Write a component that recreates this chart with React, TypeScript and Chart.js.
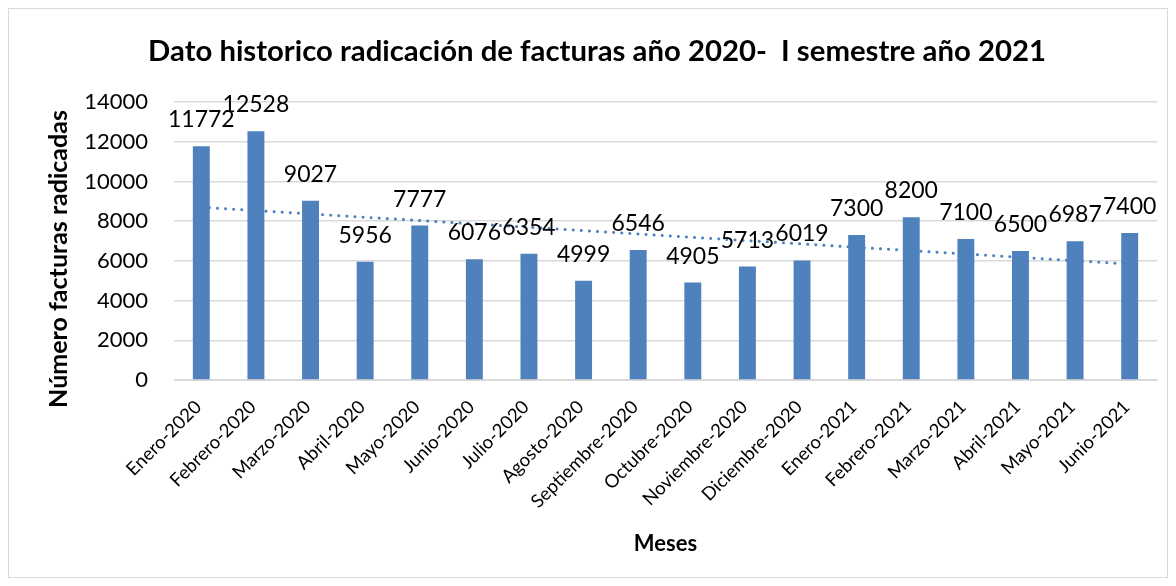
import React, { useEffect, useRef } from "react";
import { Chart, registerables } from "chart.js";

Chart.register(...registerables);

const categories = [
  "Enero-2020", "Febrero-2020", "Marzo-2020", "Abril-2020", "Mayo-2020", "Junio-2020",
  "Julio-2020", "Agosto-2020", "Septiembre-2020", "Octubre-2020", "Noviembre-2020",
  "Diciembre-2020", "Enero-2021", "Febrero-2021", "Marzo-2021", "Abril-2021", "Mayo-2021", "Junio-2021",
];
const facturas = [11772, 12528, 9027, 5956, 7777, 6076, 6354, 4999, 6546, 4905, 5713, 6019, 7300, 8200, 7100, 6500, 6987, 7400];
// Trendline endpoints (first and last month)
const trendStart = 8700;
const trendEnd = 5840;
const yTicks = [0, 2000, 4000, 6000, 8000, 10000, 12000, 14000];

const titleText = "Dato historico radicación de facturas año 2020-  I semestre año 2021";
const yTitleText = "Número facturas radicadas";
const xTitleText = "Meses";

const BLUE = "#4F81BD";
const FONT = "Lato, 'Open Sans', sans-serif";

const textPlugin = {
  id: "customTexts",
  afterDatasetsDraw(chart: any) {
    const meta = chart.getDatasetMeta(0);
    const ctx = chart.ctx;
    ctx.save();
    ctx.font = `23px ${FONT}`;
    ctx.fillStyle = "#000";
    ctx.textAlign = "center";
    ctx.textBaseline = "alphabetic";
    meta.data.forEach((bar: any, i: number) => {
      ctx.fillText(String(facturas[i]), bar.x, bar.y - 19);
    });
    ctx.restore();
  },
  afterDraw(chart: any) {
    const ctx = chart.ctx;
    ctx.save();
    ctx.fillStyle = "#000";
    ctx.textAlign = "center";
    ctx.textBaseline = "middle";
    ctx.font = `bold 29.3px ${FONT}`;
    ctx.fillText(titleText, 588, 43);
    ctx.translate(50, 250);
    ctx.rotate(-Math.PI / 2);
    ctx.font = `bold 25px ${FONT}`;
    ctx.fillText(yTitleText, 0, 0);
    ctx.restore();
  },
};

export default function App() {
  const ref = useRef<HTMLCanvasElement>(null);
  useEffect(() => {
    const trend = categories.map((_, i) =>
      i === 0 ? trendStart : i === categories.length - 1 ? trendEnd : null
    );
    const chart = new Chart(ref.current!, {
      type: "bar",
      data: {
        labels: categories,
        datasets: [
          {
            type: "bar",
            data: facturas,
            backgroundColor: BLUE,
            barPercentage: 0.31,
            categoryPercentage: 1,
            order: 2,
          },
          {
            type: "line",
            data: trend as any,
            borderColor: BLUE,
            borderWidth: 3,
            borderDash: [0.1, 8],
            borderCapStyle: "round",
            pointRadius: 0,
            spanGaps: true,
            fill: false,
            order: 1,
          } as any,
        ],
      },
      options: {
        animation: false,
        responsive: false,
        layout: { padding: { left: 0, right: 10, top: 93, bottom: 0 } },
        plugins: {
          legend: { display: false },
          tooltip: { enabled: false },
          title: { display: false },
        },
        scales: {
          x: {
            grid: { display: false, drawTicks: false },
            border: { display: true, color: "#d9d9d9", width: 1 },
            ticks: {
              color: "#000",
              font: { family: FONT, size: 18.5 },
              maxRotation: 45,
              minRotation: 45,
              autoSkip: false,
              padding: 16,
              labelOffset: -3,
            },
            title: {
              display: true,
              text: xTitleText,
              color: "#000",
              font: { family: FONT, size: 22, weight: "bold" },
              padding: { top: 0, bottom: 20 },
            },
            afterFit(scale: any) {
              scale.height = 197;
            },
          },
          y: {
            min: 0,
            max: 14000,
            afterBuildTicks(scale: any) {
              scale.ticks = yTicks.map((v) => ({ value: v }));
            },
            grid: { color: "#d9d9d9", lineWidth: 1.5, drawTicks: false },
            border: { display: false },
            ticks: {
              color: "#000",
              font: { family: FONT, size: 22 },
              padding: 26,
              callback: (v: any) => String(v),
            },
            title: { display: false },
            afterFit(scale: any) {
              scale.width = 165;
            },
          },
        },
      },
      plugins: [textPlugin],
    });
    return () => chart.destroy();
  }, []);
  return (
    <div style={{ width: 1158, height: 568, border: "1px solid #d9d9d9", background: "#fff" }}>
      <canvas ref={ref} width={1158} height={568} style={{ display: "block" }} />
    </div>
  );
}
